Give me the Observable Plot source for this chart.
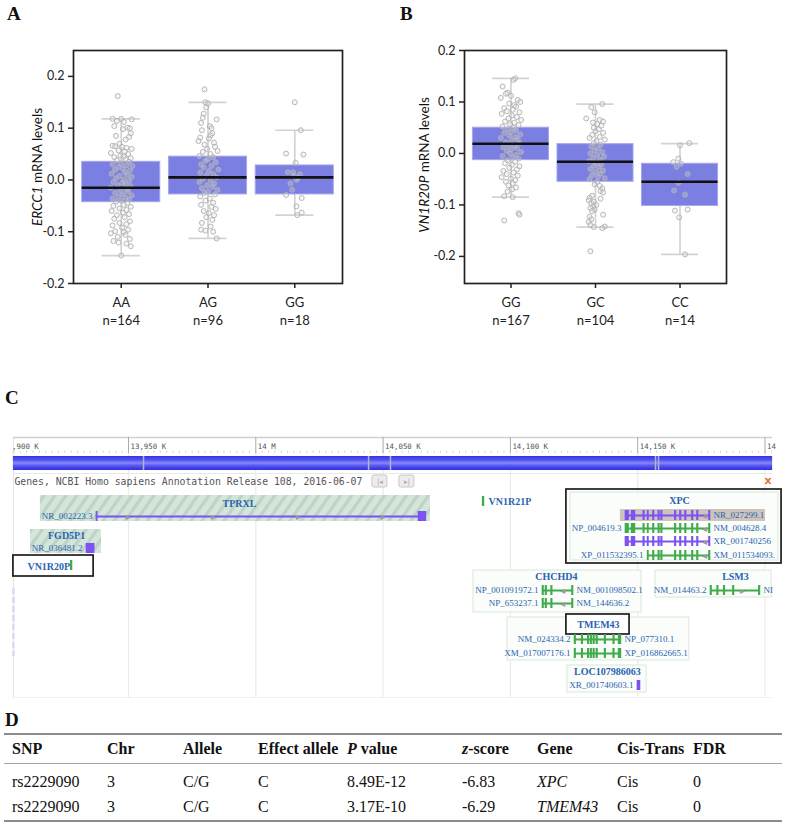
<!DOCTYPE html>
<html><head><meta charset="utf-8">
<script src="https://cdn.jsdelivr.net/npm/d3@7"></script>
<script src="https://cdn.jsdelivr.net/npm/@observablehq/plot@0.6"></script>
<style>
body{margin:0;background:#fff;}
#root{position:relative;width:787px;height:826px;overflow:hidden;background:#fff;}
.panel{position:absolute;}
.lett{position:absolute;font:bold 19px "Liberation Serif",serif;color:#111;line-height:22px;}
.ylab{position:absolute;white-space:nowrap;font:13.5px Lato,sans-serif;color:#111;transform:translate(-50%,-50%) rotate(-90deg);}
.cell{position:absolute;white-space:nowrap;font:16px "Liberation Serif",serif;color:#111;line-height:20px;}
.cell.h{font-weight:bold;}
.hline{position:absolute;left:4px;width:778px;}
</style></head><body><div id="root"></div>
<script>
// ================= DATA =================
// Panel A: ERCC1 mRNA levels by rs2229090 genotype
const genoA = ["AA", "AG", "GG"];
const nA = [164, 96, 18];
const q1A = [-0.043, -0.028, -0.028];
const medA = [-0.015, 0.005, 0.005];
const q3A = [0.035, 0.045, 0.028];
const loA = [-0.146, -0.113, -0.068];
const hiA = [0.118, 0.150, 0.096];
// points: [value, horizontal jitter (fraction of category step)]
const ptsA_AA = [[0.162,-0.04],[0.118,-0.10],[0.118,0.00],[0.117,0.12],[0.114,-0.05],[0.112,0.03],[0.104,-0.08],[0.101,0.07],[0.100,0.10],[0.098,0.02],[0.090,0.11],[0.085,-0.06],[0.083,0.09],[0.078,0.05],[0.070,-0.02],[0.066,-0.10],[0.065,-0.07],[0.064,0.01],[0.062,0.06],[0.060,0.12],[0.057,-0.03],[0.055,0.04],[0.052,-0.12],[0.050,0.08],[0.047,-0.01],[0.045,0.03],[0.044,-0.08],[0.042,0.11],[0.040,0.05],[0.038,-0.05],[0.035,0.09],[0.032,0.00],[0.030,-0.10],[0.028,0.06],[0.027,0.13],[0.025,-0.03],[0.022,0.02],[0.020,-0.07],[0.018,0.10],[0.015,0.04],[0.012,-0.11],[0.010,0.07],[0.008,-0.02],[0.006,0.12],[0.003,-0.06],[0.001,0.03],[-0.002,0.09],[-0.004,-0.09],[-0.006,0.01],[-0.008,0.05],[-0.010,-0.04],[-0.012,0.11],[-0.015,-0.12],[-0.017,0.06],[-0.020,-0.01],[-0.022,0.08],[-0.025,-0.07],[-0.027,0.02],[-0.030,0.12],[-0.032,-0.03],[-0.034,0.05],[-0.036,-0.10],[-0.038,0.09],[-0.040,0.00],[-0.042,-0.06],[-0.045,0.07],[-0.048,0.03],[-0.050,-0.09],[-0.052,0.11],[-0.055,-0.02],[-0.058,0.06],[-0.060,-0.11],[-0.063,0.02],[-0.066,0.09],[-0.068,-0.05],[-0.072,0.04],[-0.075,-0.08],[-0.080,0.10],[-0.083,-0.02],[-0.085,0.06],[-0.088,-0.10],[-0.092,0.01],[-0.096,0.08],[-0.099,-0.07],[-0.101,0.03],[-0.103,-0.12],[-0.106,0.05],[-0.110,-0.04],[-0.114,0.10],[-0.118,-0.09],[-0.121,-0.03],[-0.123,0.06],[-0.128,0.11],[-0.146,0.00]];
const ptsA_AG = [[0.175,-0.04],[0.150,-0.03],[0.148,0.00],[0.140,-0.02],[0.128,-0.05],[0.120,-0.06],[0.117,0.10],[0.110,-0.08],[0.104,0.02],[0.100,0.04],[0.096,-0.07],[0.090,0.05],[0.086,0.03],[0.082,-0.09],[0.080,0.01],[0.075,-0.11],[0.072,0.07],[0.068,-0.04],[0.064,0.08],[0.060,-0.01],[0.056,0.11],[0.054,-0.06],[0.050,0.03],[0.046,-0.10],[0.044,0.06],[0.040,0.00],[0.037,-0.03],[0.034,0.09],[0.030,-0.08],[0.027,0.04],[0.024,-0.05],[0.020,0.12],[0.017,0.01],[0.014,-0.09],[0.011,0.06],[0.008,-0.02],[0.005,0.10],[0.002,-0.06],[-0.001,0.03],[-0.004,-0.10],[-0.007,0.07],[-0.010,-0.01],[-0.013,0.05],[-0.016,-0.07],[-0.019,0.11],[-0.022,0.00],[-0.025,-0.04],[-0.028,0.08],[-0.032,-0.09],[-0.036,0.02],[-0.040,-0.03],[-0.044,0.06],[-0.048,-0.08],[-0.052,0.04],[-0.056,0.09],[-0.060,-0.05],[-0.064,0.01],[-0.068,0.07],[-0.072,-0.02],[-0.077,0.05],[-0.083,-0.07],[-0.090,0.03],[-0.096,-0.08],[-0.098,-0.03],[-0.100,0.06],[-0.113,0.10]];
const ptsA_GG = [[0.150,0.00],[0.096,0.07],[0.051,-0.10],[0.049,0.10],[0.033,0.01],[0.015,-0.08],[0.015,-0.02],[0.011,0.06],[0.008,-0.01],[0.004,0.04],[0.000,0.02],[-0.007,-0.05],[-0.019,-0.03],[-0.029,-0.10],[-0.035,0.08],[-0.051,0.02],[-0.063,0.08],[-0.068,0.03]];

// Panel B: VN1R20P mRNA levels by genotype
const genoB = ["GG", "GC", "CC"];
const nB = [167, 104, 14];
const q1B = [-0.013, -0.055, -0.102];
const medB = [0.019, -0.016, -0.055];
const q3B = [0.050, 0.018, -0.020];
const loB = [-0.085, -0.143, -0.196];
const hiB = [0.146, 0.096, 0.019];
const ptsB_GG = [[0.146,0.05],[0.143,0.03],[0.130,-0.10],[0.118,-0.04],[0.116,-0.06],[0.112,0.00],[0.108,-0.12],[0.104,0.08],[0.100,0.11],[0.097,-0.02],[0.094,0.04],[0.091,0.06],[0.088,-0.08],[0.085,0.02],[0.082,-0.05],[0.080,0.10],[0.077,-0.11],[0.074,0.01],[0.071,0.07],[0.068,-0.03],[0.065,0.12],[0.062,-0.07],[0.060,0.04],[0.057,-0.01],[0.055,0.09],[0.052,-0.10],[0.050,0.03],[0.047,-0.04],[0.045,0.06],[0.042,0.00],[0.040,-0.08],[0.037,0.11],[0.035,-0.02],[0.032,0.05],[0.030,-0.12],[0.027,0.08],[0.025,0.01],[0.022,-0.06],[0.020,0.10],[0.017,-0.03],[0.015,0.04],[0.012,-0.09],[0.010,0.07],[0.008,0.00],[0.005,-0.05],[0.003,0.12],[0.000,-0.01],[-0.003,0.06],[-0.005,-0.10],[-0.008,0.02],[-0.010,0.09],[-0.013,-0.04],[-0.016,0.05],[-0.019,-0.07],[-0.022,0.01],[-0.025,0.10],[-0.028,-0.02],[-0.031,0.07],[-0.034,-0.09],[-0.037,0.03],[-0.040,-0.05],[-0.043,0.08],[-0.046,-0.11],[-0.049,0.00],[-0.052,0.05],[-0.055,-0.06],[-0.058,0.02],[-0.062,-0.03],[-0.066,0.06],[-0.070,0.01],[-0.074,-0.04],[-0.083,-0.08],[-0.085,0.02],[-0.116,0.09],[-0.119,0.10],[-0.130,-0.08]];
const ptsB_GC = [[0.096,0.08],[0.090,-0.05],[0.080,-0.01],[0.068,-0.11],[0.065,0.05],[0.062,0.09],[0.060,-0.03],[0.057,0.02],[0.054,0.07],[0.050,-0.02],[0.047,0.04],[0.043,0.00],[0.040,0.09],[0.036,-0.04],[0.032,0.05],[0.030,-0.07],[0.027,0.11],[0.024,0.01],[0.020,-0.02],[0.017,0.06],[0.013,-0.05],[0.010,0.03],[0.006,-0.01],[0.003,0.08],[0.000,-0.06],[-0.003,0.02],[-0.006,0.10],[-0.009,-0.03],[-0.012,0.05],[-0.015,-0.08],[-0.018,0.01],[-0.021,0.07],[-0.024,-0.02],[-0.027,0.04],[-0.030,-0.06],[-0.033,0.09],[-0.036,0.00],[-0.039,0.06],[-0.042,-0.04],[-0.045,0.03],[-0.048,0.11],[-0.050,-0.07],[-0.055,0.02],[-0.060,-0.01],[-0.063,0.05],[-0.068,0.08],[-0.073,0.06],[-0.076,0.09],[-0.082,-0.04],[-0.086,-0.07],[-0.088,0.06],[-0.091,-0.08],[-0.094,-0.02],[-0.097,-0.05],[-0.100,0.01],[-0.103,-0.03],[-0.106,-0.06],[-0.109,-0.01],[-0.112,-0.04],[-0.119,0.09],[-0.123,-0.07],[-0.128,-0.05],[-0.133,-0.08],[-0.139,-0.06],[-0.142,0.11],[-0.143,-0.02],[-0.145,0.08],[-0.190,-0.06]];
const ptsB_CC = [[0.020,0.11],[0.016,0.00],[-0.010,-0.02],[-0.017,-0.08],[-0.020,0.01],[-0.026,-0.04],[-0.040,0.09],[-0.057,-0.02],[-0.072,-0.07],[-0.080,0.06],[-0.109,0.09],[-0.111,-0.06],[-0.124,-0.01],[-0.196,0.06]];
const yTicks = [-0.2, -0.1, 0, 0.1, 0.2];

// Panel C: genome browser view, chr3 (positions in kb)
const rulerK = [13900, 13950, 14000, 14050, 14100, 14150, 14200];
const rulerLabels = ["13,900 K", "13,950 K", "14 M", "14,050 K", "14,100 K", "14,150 K", "14"];
const viewK = [13904.8, 14203.0];
const barMarksK = [13955.9, 14044.3, 14052.9, 14157.0, 14158.2];
const trackTitle = "Genes, NCBI Homo sapiens Annotation Release 108, 2016-06-07";
const geneBacks = [
  {name:"TPRXL", x1:13915.4, x2:14068.6, y1:495, y2:521, kind:"hatch"},
  {name:"FGD5P1", x1:13911.5, x2:13939.4, y1:529, y2:553, kind:"hatch"},
  {name:"XPC", x1:14123.6, x2:14205.3, y1:492, y2:560, kind:"outline"},
  {name:"CHCHD4", x1:14085.5, x2:14151.5, y1:570, y2:612, kind:"outline"},
  {name:"LSM3", x1:14157.0, x2:14202.6, y1:570, y2:597, kind:"outline"},
  {name:"TMEM43", x1:14098.9, x2:14170.3, y1:617, y2:660, kind:"outline"},
  {name:"LOC107986063", x1:14122.4, x2:14153.5, y1:665, y2:692, kind:"outline"}
];
const geneNames = [
  {t:"TPRXL", x:13993.6, y:503, a:"middle"},
  {t:"FGD5P1", x:13925.7, y:535, a:"middle"},
  {t:"XPC", x:14166.4, y:500, a:"middle"},
  {t:"CHCHD4", x:14118.1, y:576, a:"middle"},
  {t:"LSM3", x:14188.4, y:576, a:"middle"},
  {t:"TMEM43", x:14134.6, y:624, a:"middle"},
  {t:"LOC107986063", x:14138.1, y:671, a:"middle"},
  {t:"VN1R20P", x:13910.3, y:566, a:"start"},
  {t:"VN1R21P", x:14091.4, y:501, a:"start"}
];
const exonSets = {
  tprxl: [[13937.4,13937.9],[14063.9,14067.0]],
  fgd: [[13933.5,13936.7]],
  xpc: [[14145.2,14146.6],[14147.6,14149.1],[14152.2,14152.8],[14153.9,14154.4],[14156.0,14156.6],[14158.1,14158.7],[14159.2,14159.8],[14164.6,14165.2],[14166.6,14167.2],[14168.6,14169.2],[14171.3,14171.9],[14173.3,14173.9],[14178.0,14178.6]],
  chchd4: [[14112.6,14113.2],[14113.8,14114.4],[14116.0,14116.6],[14124.2,14124.8]],
  lsm3: [[14178.6,14179.2],[14181.2,14181.8],[14183.8,14184.4],[14187.4,14188.0],[14197.6,14198.2]],
  tmem43: [[14125.2,14125.8],[14128.0,14128.6],[14130.4,14131.0],[14131.5,14132.1],[14132.6,14133.2],[14133.8,14134.4],[14137.0,14137.6],[14140.4,14141.0],[14142.5,14143.6]],
  loc: [[14149.9,14151.1]],
  vn1r20p: [[13927.3,13928.0]],
  vn1r21p: [[14089.1,14089.8]]
};
const transcripts = [
  {left:"NR_002223.3", right:"", x1:13937.4, x2:14067.0, y:516, type:"nc", set:"tprxl", arrowsK:[13950.0,13983.4,14016.8,14050.1], dir:">"},
  {left:"NR_036481.2", right:"", x1:13933.5, x2:13936.7, y:548, type:"nc", set:"fgd", arrowsK:[], dir:""},
  {left:"", right:"", x1:13927.3, x2:13928.0, y:565, type:"pc", set:"vn1r20p", arrowsK:[], dir:""},
  {left:"", right:"", x1:14089.1, x2:14089.8, y:501, type:"pc", set:"vn1r21p", arrowsK:[], dir:""},
  {left:"", right:"NR_027299.1", x1:14145.2, x2:14178.6, y:515, type:"nc", set:"xpc", arrowsK:[14176.2], dir:"<"},
  {left:"NP_004619.3", right:"NM_004628.4", x1:14145.2, x2:14178.6, y:528, type:"pc", set:"xpc", arrowsK:[14176.2], dir:"<"},
  {left:"", right:"XR_001740256", x1:14145.2, x2:14178.6, y:541, type:"nc", set:"xpc", arrowsK:[14176.2], dir:"<"},
  {left:"XP_011532395.1", right:"XM_011534093.", x1:14153.9, x2:14178.6, y:555, type:"pc", set:"xpc", arrowsK:[14176.2], dir:"<"},
  {left:"NP_001091972.1", right:"NM_001098502.1", x1:14112.6, x2:14124.8, y:590, type:"pc", set:"chchd4", arrowsK:[14120.6], dir:"<"},
  {left:"NP_653237.1", right:"NM_144636.2", x1:14112.6, x2:14124.8, y:603, type:"pc", set:"chchd4", arrowsK:[14120.6], dir:"<"},
  {left:"NM_014463.2", right:"NI", x1:14178.6, x2:14198.2, y:590, type:"pc", set:"lsm3", arrowsK:[14191.2], dir:">"},
  {left:"NM_024334.2", right:"NP_077310.1", x1:14125.2, x2:14143.6, y:639, type:"pc", set:"tmem43", arrowsK:[], dir:""},
  {left:"XM_017007176.1", right:"XP_016862665.1", x1:14125.2, x2:14143.6, y:653, type:"pc", set:"tmem43", arrowsK:[], dir:""},
  {left:"XR_001740603.1", right:"", x1:14149.9, x2:14151.1, y:685, type:"nc", set:"loc", arrowsK:[], dir:""}
];
const highlightRows = [{x1:14143.2, x2:14200.2, y1:509, y2:521}];
const focusBoxes = [
  {x1:13904.8, x2:13936.3, y1:555, y2:576, fill:"none"},
  {x1:14122.0, x2:14206.5, y1:489, y2:563, fill:"none"},
  {x1:14122.0, x2:14146.8, y1:614, y2:634, fill:"white"}
];

// Panel D: table
const dCols = ["SNP", "Chr", "Allele", "Effect allele", "P value", "z-score", "Gene", "Cis-Trans", "FDR"];
const dRows = [
  ["rs2229090", "3", "C/G", "C", "8.49E-12", "-6.83", "XPC", "Cis", "0"],
  ["rs2229090", "3", "C/G", "C", "3.17E-10", "-6.29", "TMEM43", "Cis", "0"]
];

// ================= DRAW =================
const root = document.getElementById("root");
function place(node, left, top) {
  const d = document.createElement("div");
  d.className = "panel"; d.style.left = left + "px"; d.style.top = top + "px";
  d.appendChild(node); root.appendChild(d); return d;
}
function html(cls, left, top, inner) {
  const d = document.createElement("div");
  d.className = cls; d.style.left = left + "px"; d.style.top = top + "px";
  d.innerHTML = inner; root.appendChild(d); return d;
}

function boxPlot({cats, ns, q1, med, q3, lo, hi, pts, ydomain, width, marginLeft, marginRight}) {
  const stats = cats.map((c, i) => ({i, q1: q1[i], med: med[i], q3: q3[i], lo: lo[i], hi: hi[i]}));
  const dots = pts.flatMap((arr, i) => arr.map(([v, j]) => ({i, v, j})));
  const whisk = {stroke: "#d3d3d3", strokeWidth: 1.7};
  return Plot.plot({
    width, height: 335, marginLeft, marginRight, marginTop: 50, marginBottom: 52,
    x: {domain: [-0.55, 2.55]},
    y: {domain: ydomain},
    style: {fontFamily: "Lato, sans-serif", fontSize: "12.5px", background: "transparent", color: "#222"},
    marks: [
      Plot.ruleX(stats, {x: "i", y1: "lo", y2: "hi", ...whisk}),
      Plot.ruleY(stats, {y: "hi", x1: d => d.i - 0.22, x2: d => d.i + 0.22, ...whisk}),
      Plot.ruleY(stats, {y: "lo", x1: d => d.i - 0.22, x2: d => d.i + 0.22, ...whisk}),
      Plot.rect(stats, {x1: d => d.i - 0.45, x2: d => d.i + 0.45, y1: "q1", y2: "q3", fill: "#7b7fe1", stroke: "#a4a7ee", strokeWidth: 1}),
      Plot.dot(dots, {x: d => d.i + d.j, y: "v", r: 2.5, stroke: "#b0b0b0", strokeWidth: 0.9, fill: "#e0e0e0", fillOpacity: 0.3}),
      Plot.ruleY(stats, {y: "med", x1: d => d.i - 0.45, x2: d => d.i + 0.45, stroke: "#111", strokeWidth: 2.6}),
      Plot.frame({stroke: "#222", strokeWidth: 1.7}),
      Plot.axisY({ticks: yTicks, tickFormat: d => d.toFixed(1), tickSize: 5, tickPadding: 4, label: null, strokeWidth: 1.5}),
      Plot.axisX({ticks: [0, 1, 2], tickFormat: i => cats[i], tickSize: 5, tickPadding: 9, label: null, fontSize: 13, strokeWidth: 1.5}),
      Plot.axisX({ticks: [0, 1, 2], tickFormat: i => "n=" + ns[i], tickSize: 0, tickPadding: 32, label: null, fontSize: 13})
    ]
  });
}

place(boxPlot({cats: genoA, ns: nA, q1: q1A, med: medA, q3: q3A, lo: loA, hi: hiA,
  pts: [ptsA_AA, ptsA_AG, ptsA_GG], ydomain: [-0.2, 0.25], width: 350, marginLeft: 73, marginRight: 8}), 0, 0);
place(boxPlot({cats: genoB, ns: nB, q1: q1B, med: medB, q3: q3B, lo: loB, hi: hiB,
  pts: [ptsB_GG, ptsB_GC, ptsB_CC], ydomain: [-0.2526, 0.2], width: 370, marginLeft: 94, marginRight: 14}), 370, 0);

html("ylab", 37, 167, "<i>ERCC1</i> mRNA levels");
html("ylab", 424, 165, "<i>VN1R20P</i> mRNA levels");
html("lett", 7, 3, "A");
html("lett", 400, 3, "B");
html("lett", 5, 387, "C");
html("lett", 5, 709, "D");

// ---- Panel C ----
const purple = "#7d52f2", green = "#3fab4b", blueText = "#2a64b0";
const colOf = t => t.type === "nc" ? purple : green;
const exons = transcripts.flatMap(t => exonSets[t.set]
  .filter(([a, b]) => a >= t.x1 - 0.01 && b <= t.x2 + 0.01)
  .map(([a, b]) => ({x1: a, x2: b, y: t.y, col: colOf(t)})));
const arrows = transcripts.flatMap(t => t.arrowsK.map(k => ({x: k, y: t.y, dir: t.dir})));
const minorK = d3.range(13905, 14205, 2.5);
const serif = "Liberation Serif, serif";
const mono = "DejaVu Sans Mono, monospace";
const txt = {fill: blueText, fontFamily: serif};
const rulerRows = rulerK.map((k, i) => ({k, t: rulerLabels[i]}));
const rulerText = {x: "k", y: 446, text: "t", textAnchor: "start", dx: 2, fontFamily: mono, fontSize: 7.4, fill: "#555"};

const C = Plot.plot({
  width: 787, height: 270, marginTop: 0, marginBottom: 0, marginLeft: 13, marginRight: 15,
  x: {domain: [13899.73, 14208.84], range: [0, 787], axis: null},
  y: {domain: [430, 700], range: [0, 270], axis: null},
  color: {type: "identity"},
  style: {background: "transparent", fontFamily: serif},
  marks: [
    // grid
    Plot.ruleX(rulerK.slice(1), {x: d => d, y1: 452, y2: 697, stroke: "#ebebeb", strokeWidth: 1.2}),
    Plot.ruleX([viewK[0]], {x: d => d, y1: 437, y2: 697, stroke: "#e6e6e6", strokeWidth: 1.2}),
    Plot.ruleY([697], {x1: viewK[0], x2: viewK[1], stroke: "#f0f0f0"}),
    Plot.ruleX([viewK[0]], {x: d => d, y1: 588, y2: 656, stroke: "#ddd6f8", strokeWidth: 2.5, strokeDasharray: "6,3"}),
    // ruler
    Plot.ruleY([437], {x1: viewK[0], x2: viewK[1], stroke: "#d0d0d0", strokeWidth: 1.5}),
    Plot.ruleX(rulerK.slice(1), {x: d => d, y1: 437, y2: 453, stroke: "#aaa"}),
    Plot.ruleX(minorK, {x: d => d, y1: 450.5, y2: 453, stroke: "#bbb", strokeWidth: 0.6}),
    Plot.text(rulerRows.slice(0, 1), {...rulerText, clip: true}),
    Plot.text(rulerRows.slice(1), rulerText),
    // chromosome bar
    Plot.rect([viewK], {x1: d => d[0], x2: d => d[1], y1: 456, y2: 470, fill: "url(#barGrad)"}),
    Plot.ruleX(barMarksK, {x: d => d, y1: 456, y2: 470, stroke: "#b4b4c8", strokeWidth: 1.5}),
    // track header
    Plot.ruleY([473], {x1: viewK[0], x2: viewK[1], stroke: "#e8e8e8"}),
    Plot.text([trackTitle], {x: viewK[0], y: 481, text: d => d, textAnchor: "start", dx: 1, fontFamily: mono, fontSize: 9.8, fill: "#555"}),
    Plot.rect([[14045.8, 14051.7], [14056.4, 14062.3]], {x1: d => d[0], x2: d => d[1], y1: 475, y2: 487, fill: "#ececec", stroke: "#c8c8c8", rx: 2}),
    Plot.text([[14048.75, "|◂"], [14059.35, "▸|"]], {x: d => d[0], y: 481, text: d => d[1], fontSize: 7, fill: "#aaa", fontFamily: "DejaVu Sans"}),
    Plot.text(["x"], {x: 14201.2, y: 480, text: d => d, fill: "#e0743a", fontWeight: "bold", fontSize: 11, fontFamily: "DejaVu Sans"}),
    // gene backgrounds
    Plot.rect(geneBacks.filter(d => d.kind === "hatch"), {x1: "x1", x2: "x2", y1: "y1", y2: "y2", fill: "url(#hatch)"}),
    Plot.rect(geneBacks.filter(d => d.kind === "outline"), {x1: "x1", x2: "x2", y1: "y1", y2: "y2", fill: "#fbfdfb", stroke: "#d5ead6", strokeWidth: 1}),
    Plot.rect(focusBoxes, {x1: "x1", x2: "x2", y1: "y1", y2: "y2", fill: "fill", stroke: "#1e1e1e", strokeWidth: 1.7}),
    Plot.rect(highlightRows, {x1: "x1", x2: "x2", y1: "y1", y2: "y2", fill: "#cdc4bc"}),
    // gene models
    Plot.ruleY(transcripts, {y: "y", x1: "x1", x2: "x2", stroke: colOf, strokeWidth: 2}),
    Plot.rect(exons, {x1: "x1", x2: "x2", y1: d => d.y - 5, y2: d => d.y + 5, fill: "col", insetLeft: -0.3, insetRight: -0.3}),
    Plot.text(arrows, {x: "x", y: "y", text: d => d.dir === "<" ? "◂" : "▸", fill: "#9a9a9a", fontSize: 10, fontFamily: "DejaVu Sans"}),
    // labels
    Plot.text(transcripts.filter(t => t.left), {x: "x1", y: "y", text: "left", textAnchor: "end", dx: -4, fontSize: 9, ...txt}),
    Plot.text(transcripts.filter(t => t.right), {x: "x2", y: "y", text: "right", textAnchor: "start", dx: 3, fontSize: 9, ...txt}),
    Plot.text(geneNames.filter(d => d.a === "middle"), {x: "x", y: "y", text: "t", textAnchor: "middle", fontSize: 10, fontWeight: "bold", ...txt}),
    Plot.text(geneNames.filter(d => d.a === "start"), {x: "x", y: "y", text: "t", textAnchor: "start", fontSize: 10, fontWeight: "bold", ...txt})
  ]
});
// defs (hatch pattern + bar gradient)
const defs = d3.select(C).insert("defs", ":first-child");
const pat = defs.append("pattern").attr("id", "hatch").attr("patternUnits", "userSpaceOnUse")
  .attr("width", 9).attr("height", 9).attr("patternTransform", "rotate(35)");
pat.append("rect").attr("width", 9).attr("height", 9).attr("fill", "#d4e5da");
pat.append("rect").attr("width", 3.2).attr("height", 9).attr("fill", "#bdd3c5");
const grad = defs.append("linearGradient").attr("id", "barGrad").attr("x1", 0).attr("x2", 0).attr("y1", 0).attr("y2", 1);
[[0, "#3232e8"], [0.3, "#5555f2"], [0.5, "#8888f8"], [0.7, "#5555f2"], [1, "#2e2ee2"]]
  .forEach(([o, c]) => grad.append("stop").attr("offset", o).attr("stop-color", c));
place(C, 0, 430);

// ---- Panel D (table) ----
const colLeft = [12, 107, 183, 258, 347, 462, 537, 617, 693];
const headHtml = h => h === "P value" ? "<i>P</i> value" : h === "z-score" ? "<i>z</i>-score" : h;
dCols.forEach((h, c) => html("cell h", colLeft[c], 739, headHtml(h)));
dRows.forEach((r, ri) => r.forEach((v, c) => html("cell", colLeft[c], 772 + ri * 25, dCols[c] === "Gene" ? "<i>" + v + "</i>" : v)));
[[733, 2.2, "#8c8c8c"], [763, 1.3, "#a6a6a6"], [820, 2.2, "#8c8c8c"]].forEach(([t, h, c]) => {
  const d = html("hline", 4, t, ""); d.style.height = h + "px"; d.style.background = c;
});
</script></body></html>
